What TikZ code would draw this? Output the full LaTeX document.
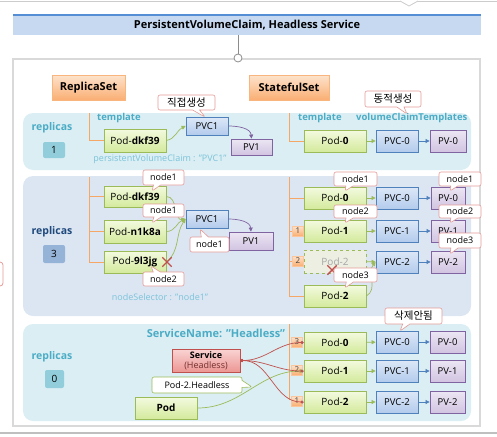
\documentclass[tikz,border=0pt]{standalone}
\usepackage{fontspec}
\setmainfont{Open Sans}
\newfontfamily\kr{Noto Sans CJK KR}
\usetikzlibrary{shapes.callouts,shapes.misc,arrows.meta,shadows}
\definecolor{tbar}{HTML}{C6D9F1}
\definecolor{tline}{HTML}{558ED5}
\definecolor{frm}{HTML}{D9D9D9}
\definecolor{pcyan}{HTML}{DBEEF3}
\definecolor{pblue}{HTML}{DCE6F2}
\definecolor{cteal}{HTML}{4BACC6}
\definecolor{lteal}{HTML}{7CC3DA}
\definecolor{dblue}{HTML}{1F497D}
\definecolor{orl}{HTML}{F6A766}
\definecolor{grn}{HTML}{9BBB59}
\definecolor{grnT}{HTML}{F3FADF}
\definecolor{grnB}{HTML}{D4EA9C}
\definecolor{bluB}{HTML}{4F81BD}
\definecolor{bluT}{HTML}{DDE8F8}
\definecolor{bluBt}{HTML}{B3CBEC}
\definecolor{purB}{HTML}{8064A2}
\definecolor{purT}{HTML}{ECE6F3}
\definecolor{purBt}{HTML}{D1C4E2}
\definecolor{orgB}{HTML}{F79646}
\definecolor{orgT}{HTML}{FDE3CD}
\definecolor{orgBt}{HTML}{FAAE72}
\definecolor{redB}{HTML}{C0504D}
\definecolor{redT}{HTML}{F9D4D3}
\definecolor{redBt}{HTML}{EC9693}
\definecolor{callB}{HTML}{E39A97}
\definecolor{ghostF}{HTML}{EDEFE2}
\definecolor{repA}{HTML}{92CDDC}
\definecolor{repB}{HTML}{95B3D7}
\newcommand{\bx}[7]{\node[#1, minimum width={#5-#3}, minimum height={#6-#4}] (#2) at ({(#3+#5)/2},{(#4+#6)/2}) {#7};}
\newcommand{\cb}[7]{\node[cbub, minimum width={#4-#2}, minimum height={#5-#3}, callout absolute pointer={#6}] (#1) at ({(#2+#4)/2},{(#3+#5)/2}) {#7};}
\tikzset{
 bxbase/.style={draw, inner sep=0pt, line width=0.8pt, font=\fontsize{9.5}{10}\selectfont,
   drop shadow={opacity=0.18, shadow xshift=0.8pt, shadow yshift=-0.8pt}},
 podbox/.style={bxbase, draw=grn, top color=grnT, bottom color=grnB, font=\fontsize{10}{11}\selectfont},
 pvcbox/.style={bxbase, draw=bluB, top color=bluT, bottom color=bluBt},
 pvbox/.style={bxbase, draw=purB, top color=purT, bottom color=purBt},
 setbox/.style={bxbase, draw=orgB!70, top color=orgT, bottom color=orgBt, font=\fontsize{11}{12}\selectfont\bfseries},
 svcbox/.style={bxbase, draw=redB, top color=redT, bottom color=redBt, align=center, font=\fontsize{9}{10}\selectfont},
 ghostbox/.style={draw=grn, dashed, line width=0.8pt, inner sep=0pt, fill=ghostF, text=black!35, font=\fontsize{10}{11}\selectfont},
 repbox/.style={inner sep=0pt, rounded corners=2pt, font=\fontsize{10}{11}\selectfont},
 numbox/.style={inner sep=0pt, minimum width=11, minimum height=10, top color=orgT, bottom color=orgBt, draw=orgBt!70, font=\fontsize{8}{8}\selectfont, text=black!75},
 cbub/.style={rectangle callout, draw=callB, fill=white, rounded corners=2pt, inner sep=0pt, line width=0.6pt, font=\fontsize{9}{10}\selectfont},
 garrow/.style={draw=grn, line width=0.7pt, -{Triangle[length=4pt,width=4pt]}},
 barrow/.style={draw=bluB, line width=0.7pt, -{Triangle[length=4pt,width=4pt]}},
 parrow/.style={draw=purB, line width=0.7pt, -{Triangle[length=4pt,width=4pt]}},
 rarrow/.style={draw=redB, line width=0.7pt, {Circle[length=3pt]}-{Circle[length=3pt]}},
 oline/.style={draw=orl, line width=1pt},
 lbl/.style={text=cteal, font=\fontsize{9.5}{10}\selectfont\bfseries, inner sep=0pt},
 reptxt/.style={lbl, font=\fontsize{10.5}{11}\selectfont\bfseries},
 xmark/.style={cross out, draw=redB, line width=1.4pt, minimum size=8pt, inner sep=0pt},
}
\begin{document}
\begin{tikzpicture}[x=1pt,y=-1pt]
\useasboundingbox (0,0) rectangle (497,436);
% screen artifacts
\draw[black!20, line width=0.8pt] (0,1) -- (497,1);
\filldraw[fill=white, draw=black!20, line width=0.8pt] (400,1) -- (409,6) -- (418,1);
\draw[callB, line width=0.8pt, rounded corners=3pt] (-10,262) rectangle (3,286);
\draw[black!25, line width=1.2pt] (0,433) -- (497,433);
% title
\node[fill=tbar, minimum width=468, minimum height=20, inner sep=0pt, font=\fontsize{11}{12}\selectfont\bfseries] (title) at (247,25) {PersistentVolumeClaim, Headless Service};
\draw[tline, line width=1.5pt] (title.north west) -- (title.north east);
\draw[frm, line width=1.5pt] (13,59) rectangle (480,426);
\coordinate (tl) at (238,35);
\node[circle, draw=black!45, fill=white, line width=0.8pt, minimum size=8pt, inner sep=0pt] (circ) at (238,58) {};
\draw[black!45, line width=0.8pt] (tl) -- (circ.north);
% panels
\fill[pcyan, rounded corners=10pt] (23,113) rectangle (471,170);
\fill[pblue, rounded corners=10pt] (23,176) rectangle (471,316);
\fill[pcyan, rounded corners=10pt] (23,324) rectangle (471,421);
% sets
\bx{setbox}{rs}{52}{75}{125}{100}{ReplicaSet}
\bx{setbox}{ss}{249}{75}{329}{100}{StatefulSet}
% ---------- panel 1
\node[reptxt] (rep1) at (52,128) {replicas};
\bx{repbox, fill=repA}{n1}{43}{142}{65}{158}{1}
\node[lbl, anchor=west] (tpl1) at (97,118) {template};
\coordinate (o1) at (89,113);
\bx{podbox}{a1}{104}{129}{166}{152}{Pod-\textbf{dkf39}}
\draw[oline] (o1) |- (a1.west);
\bx{pvcbox}{a1c}{186}{117}{228}{135}{PVC1}
\bx{pvbox}{a1v}{231}{139}{272}{155}{PV1}
\draw[garrow] (a1.east) to[out=10,in=205] (a1c.west);
\draw[parrow] (a1c.east) to[out=0,in=95] (a1v.north);
\cb{c1}{158}{95}{215}{110}{(205,117)}{\kr\fontsize{10.5}{11}\selectfont 직접생성}
\node[text=lteal, font=\fontsize{9}{10}\selectfont, inner sep=0pt] (pvcl) at (160,159) {persistentVolumeClaim : "PVC1"};
\coordinate (o2) at (289,113);
\node[lbl, anchor=west] (tpl2) at (298,118) {template};
\node[lbl, anchor=west] (vct) at (356,118) {volumeClaimTemplates};
\bx{podbox}{b0}{304}{130}{366}{152}{Pod-\textbf{0}}
\bx{pvcbox}{b0c}{376}{130}{418}{152}{PVC-0}
\bx{pvbox}{b0v}{430}{130}{466}{152}{PV-0}
\draw[oline] (o2) |- (b0.west);
\draw[garrow] (b0) -- (b0c);
\draw[barrow] (b0c) -- (b0v);
\cb{c2}{365}{91}{421}{107}{(407,114)}{\kr\fontsize{10.5}{11}\selectfont 동적생성}
% ---------- panel 2 left
\node[reptxt, text=dblue] (rep2) at (52,232) {replicas};
\bx{repbox, fill=repB}{n2}{43}{245}{65}{263}{3}
\coordinate (o3) at (89,177);
\bx{podbox}{d1}{104}{186}{166}{207}{Pod-\textbf{dkf39}}
\bx{podbox}{d2}{104}{220}{166}{243}{Pod-\textbf{n1k8a}}
\bx{podbox}{d3}{104}{251}{166}{273}{Pod-\textbf{9l3jg}}
\draw[oline] (o3) |- (d3.west);
\draw[oline] (d1.west -| o3) -- (d1.west);
\draw[oline] (d2.west -| o3) -- (d2.west);
\bx{pvcbox}{dc}{186}{210}{228}{228}{PVC1}
\bx{pvbox}{dv}{229}{232}{273}{250}{PV1}
\draw[garrow] (d1.east) to[out=0,in=190] (dc.west);
\draw[garrow] (d2.east) to[out=0,in=200] (dc.west);
\draw[garrow] (d3.east) to[out=40,in=235] (dc.west);
\draw[parrow] (dc.east) to[out=0,in=95] (dv.north);
\node[xmark] (x1) at (167,262) {};
\cb{e1}{143}{170}{184}{185}{(152,191)}{node1}
\cb{e2}{143}{204}{184}{217}{(152,223)}{node1}
\cb{e3}{143}{272}{184}{286}{(151,266)}{node2}
\cb{e4}{190}{237}{229}{252}{(200,229)}{node1}
\node[text=lteal, font=\fontsize{9}{10}\selectfont, inner sep=0pt] (nsel) at (160,297) {nodeSelector : "node1"};
% ---------- panel 2 right
\coordinate (o4) at (289,177);
\bx{podbox}{f0}{304}{187}{366}{209}{Pod-\textbf{0}}
\bx{podbox}{f1}{304}{220}{366}{242}{Pod-\textbf{1}}
\bx{ghostbox}{fg}{304}{250}{366}{273}{Pod-2}
\bx{podbox}{f2}{304}{285}{366}{307}{Pod-\textbf{2}}
\draw[oline] (o4) |- (f2.west);
\draw[oline] (f0.west -| o4) -- (f0.west);
\draw[oline] (f1.west -| o4) -- (f1.west);
\draw[oline] (fg.west -| o4) -- (fg.west);
\node[numbox] (nb1) at (298,231) {1};
\node[numbox] (nb2) at (298,261) {2};
\bx{pvcbox}{g0}{376}{187}{418}{209}{PVC-0}
\bx{pvcbox}{g1}{376}{220}{418}{242}{PVC-1}
\bx{pvcbox}{g2}{376}{251}{418}{273}{PVC-2}
\bx{pvbox}{h0}{431}{187}{465}{209}{PV-0}
\bx{pvbox}{h1}{431}{220}{465}{242}{PV-1}
\bx{pvbox}{h2}{431}{251}{465}{273}{PV-2}
\draw[garrow] (f0) -- (g0);
\draw[garrow] (f1) -- (g1);
\draw[garrow] (fg) -- (g2);
\draw[garrow] (f2.east) to[out=30,in=230] (g2.west);
\draw[barrow] (g0) -- (h0);
\draw[barrow] (g1) -- (h1);
\draw[barrow] (g2) -- (h2);
\node[xmark] (x2) at (332,270) {};
\cb{k1}{334}{172}{377}{186}{(345,191)}{node1}
\cb{k2}{334}{205}{377}{218}{(345,223)}{node2}
\cb{k3}{334}{268}{377}{282}{(345,288)}{node3}
\cb{k4}{439}{172}{481}{186}{(450,191)}{node1}
\cb{k5}{439}{205}{481}{218}{(450,223)}{node2}
\cb{k6}{439}{233}{481}{248}{(450,254)}{node3}
% ---------- panel 3
\node[reptxt] (rep3) at (52,357) {replicas};
\bx{repbox, fill=repA}{n3}{45}{370}{64}{388}{0}
\node[lbl, font=\fontsize{11}{12}\selectfont\bfseries] (svcn) at (216,333) {ServiceName: "Headless"};
\coordinate (o5) at (289,324);
\coordinate (o6) at (289,400);
\draw[oline] (o5) -- (o6);
\node[numbox] (nc3) at (297,342) {3};
\node[numbox] (nc2) at (297,370) {2};
\node[numbox] (nc1) at (297,401) {1};
\bx{podbox}{q0}{304}{332}{366}{353}{Pod-\textbf{0}}
\bx{podbox}{q1}{304}{360}{366}{382}{Pod-\textbf{1}}
\bx{podbox}{q2}{304}{391}{366}{413}{Pod-\textbf{2}}
\bx{pvcbox}{r0}{376}{331}{418}{353}{PVC-0}
\bx{pvcbox}{r1}{376}{360}{418}{382}{PVC-1}
\bx{pvcbox}{r2}{376}{391}{418}{413}{PVC-2}
\bx{pvbox}{s0}{430}{331}{465}{353}{PV-0}
\bx{pvbox}{s1}{430}{360}{465}{382}{PV-1}
\bx{pvbox}{s2}{430}{391}{465}{413}{PV-2}
\draw[garrow] (q0) -- (r0);
\draw[garrow] (q1) -- (r1);
\draw[garrow] (q2) -- (r2);
\draw[barrow] (r0) -- (s0);
\draw[barrow] (r1) -- (s1);
\draw[barrow] (r2) -- (s2);
\cb{m1}{385}{308}{442}{324}{(400,331)}{\kr\fontsize{10.5}{11}\selectfont 삭제안됨}
\bx{svcbox}{svc}{172}{349}{240}{372}{\textbf{Service}\\\textcolor{redB!60!black}{(Headless)}}
\bx{podbox}{pd}{135}{397}{197}{419}{\textbf{Pod}}
\node[cbub, draw=grn, minimum width=90, minimum height=16, callout absolute pointer={(252,387)}] (phl) at (197,385) {Pod-2.Headless};
\draw[garrow] (pd.east) to[out=0,in=180] (q1.west);
\draw[rarrow] (svc.east) to[out=0,in=180] (q0.west);
\draw[rarrow] (svc.east) to[out=0,in=180] (q1.west);
\draw[rarrow] (svc.east) to[out=0,in=180] (q2.west);
\end{tikzpicture}
\end{document}
